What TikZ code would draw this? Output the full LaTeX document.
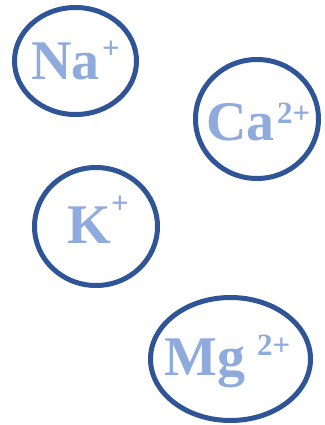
\documentclass[tikz,border=0pt]{standalone}
\usepackage{fontspec}
\setmainfont{Liberation Serif}
\usetikzlibrary{shapes.geometric}
\definecolor{IonRing}{RGB}{47,85,151}
\definecolor{IonText}{RGB}{143,170,220}
\tikzset{
  ring/.style={ellipse,draw=IonRing,line width=5pt,inner sep=0pt},
  elem/.style={text=IonText,font=\fontsize{56}{56}\selectfont\bfseries,inner sep=0pt,anchor=base west},
  chg/.style={text=IonText,font=\fontsize{31}{31}\selectfont\bfseries,inner sep=0pt,anchor=base west},
}

\begin{document}
\begin{tikzpicture}[x=1pt,y=-1pt]
  \useasboundingbox (0,0) rectangle (324,425);
  % rings
  \node[ring,minimum width=122pt,minimum height=107pt] (na) at (75.5,61) {};
  \node[ring,minimum width=123pt,minimum height=119pt] (ca) at (257,119) {};
  \node[ring,minimum width=123pt,minimum height=118pt] (k) at (96,226.5) {};
  \node[ring,minimum width=160pt,minimum height=123pt] (mg) at (230.5,359) {};
  % symbols and charges
  \node[elem] (natxt) at (31,80) {Na};
  \node[chg] (nachg) at (102,59) {+};
  \node[elem] (catxt) at (206,140) {Ca};
  \node[chg] (cachg) at (277,123) {2+};
  \node[elem] (ktxt) at (67,243) {K};
  \node[chg] (kchg) at (111,213) {+};
  \node[elem] (mgtxt) at (164,375) {Mg};
  \node[chg] (mgchg) at (257,355) {2+};
\end{tikzpicture}
\end{document}
